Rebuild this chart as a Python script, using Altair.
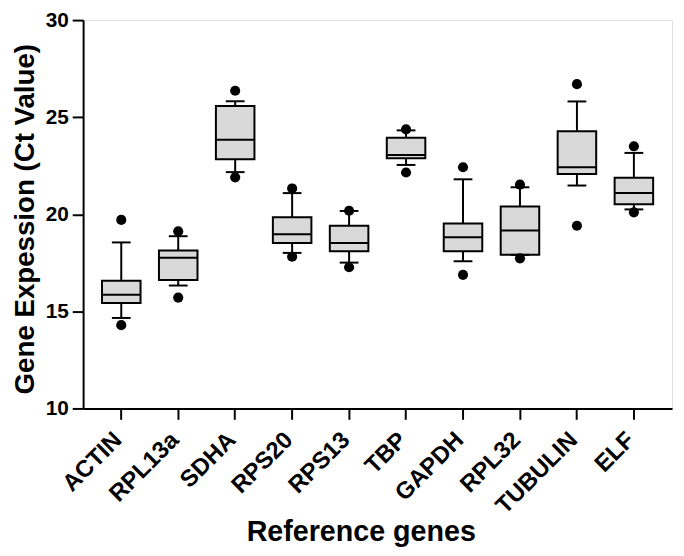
import altair as alt
import pandas as pd

genes = ["ACTIN", "RPL13a", "SDHA", "RPS20", "RPS13", "TBP", "GAPDH", "RPL32", "TUBULIN", "ELF"]
dot_low = [14.29, 15.71, 21.90, 17.81, 17.27, 22.15, 16.88, 17.73, 19.41, 20.10]
whisk_low = [14.66, 16.33, 22.17, 18.01, 17.51, 22.54, 17.58, 17.91, 21.48, 20.25]
q1 = [15.43, 16.62, 22.83, 18.52, 18.10, 22.88, 18.10, 17.91, 22.07, 20.51]
median = [15.86, 17.76, 23.84, 18.97, 18.52, 23.05, 18.82, 19.16, 22.42, 21.09]
q3 = [16.58, 18.13, 25.57, 19.85, 19.41, 23.94, 19.53, 20.40, 24.27, 21.88]
whisk_high = [18.55, 18.87, 25.82, 21.09, 20.17, 24.32, 21.80, 21.39, 25.81, 23.16]
dot_high = [19.71, 19.12, 26.36, 21.33, 20.18, 24.37, 22.42, 21.53, 26.70, 23.50]

df = pd.DataFrame({
    "gene": genes, "dlo": dot_low, "wlo": whisk_low, "q1": q1, "med": median,
    "q3": q3, "whi": whisk_high, "dhi": dot_high,
})
dots = pd.concat([
    pd.DataFrame({"gene": genes, "v": dot_low}),
    pd.DataFrame({"gene": genes, "v": dot_high}),
])

FONT = "Liberation Sans"
xscale = alt.Scale(domain=genes, paddingInner=0, paddingOuter=0.17)
yscale = alt.Scale(domain=[10, 30], nice=False, zero=False)

xenc = alt.X("gene:N", scale=xscale, sort=genes, axis=alt.Axis(
    title="Reference genes", labelAngle=-45, labelAlign="right", labelBaseline="middle",
    labelFontSize=24, labelFontWeight="bold", labelFont=FONT, labelPadding=17,
    labelOffset=-3, labelColor="black", tickSize=11, tickWidth=2, tickColor="black",
    domainColor="black", domainWidth=2, titleFont=FONT, titleFontSize=29,
    titleFontWeight="bold", titleColor="black", titleX=281, titleY=134,
    titleBaseline="alphabetic", titleAnchor="middle", titleAlign="center"))

yaxis = alt.Axis(
    title="Gene Expession (Ct Value)", values=[10, 15, 20, 25, 30], grid=False,
    labelFontSize=21, labelFontWeight="bold", labelFont=FONT, labelPadding=4,
    labelColor="black", tickSize=11, tickWidth=2, tickColor="black",
    domainColor="black", domainWidth=2, titleFont=FONT, titleFontSize=28,
    titleFontWeight="bold", titleColor="black", titleX=-50, titleY=201,
    titleBaseline="alphabetic", titleAngle=-90, titleAlign="center")

base = alt.Chart(df)

whisk = base.mark_rule(color="black", strokeWidth=2).encode(
    x=xenc, y=alt.Y("wlo:Q", scale=yscale, axis=yaxis), y2="whi:Q")
box = base.mark_bar(size=39, fill="#d9d9d9", stroke="black", strokeWidth=2, opacity=1).encode(
    x=alt.X("gene:N", sort=genes), y=alt.Y("q1:Q"), y2="q3:Q")
med = base.mark_tick(size=39, thickness=2, color="black", opacity=1).encode(
    x=alt.X("gene:N", sort=genes), y="med:Q")
cap_lo = base.mark_tick(size=19, thickness=2, color="black", opacity=1).encode(
    x=alt.X("gene:N", sort=genes), y="wlo:Q")
cap_hi = base.mark_tick(size=19, thickness=2, color="black", opacity=1).encode(
    x=alt.X("gene:N", sort=genes), y="whi:Q")
pts = alt.Chart(dots).mark_circle(size=105, color="black", opacity=1).encode(
    x=alt.X("gene:N", sort=genes), y="v:Q")

chart = alt.layer(whisk, box, med, cap_lo, cap_hi, pts).properties(
    width=596, height=393,
    autosize=alt.AutoSizeParams(type="none"),
    padding={"left": 76, "top": 9, "right": 4, "bottom": 138},
).configure_view(stroke="black", strokeWidth=2).configure(background="white")

chart.save("out.html", embed_options={"renderer": "svg", "actions": False})
